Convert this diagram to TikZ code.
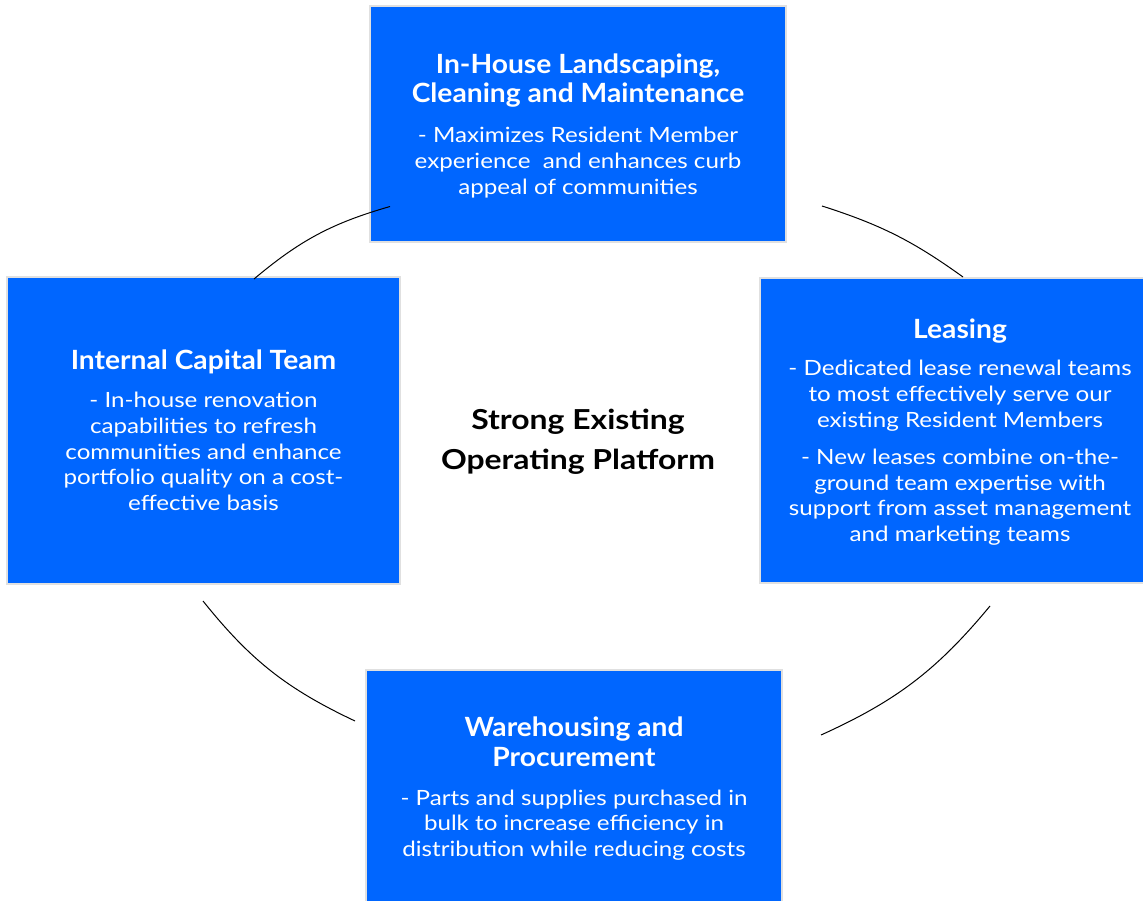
\documentclass[tikz,border=0pt]{standalone}
\usepackage{fontspec}
\setmainfont{Lato}
\newfontfamily\ttlfont{Lato}[FakeStretch=1.065]
\newfontfamily\bdyfont{Lato}[FakeStretch=1.15]
\newfontfamily\ctrfont{Lato}[FakeStretch=1.16]
\definecolor{boxblue}{RGB}{0,102,255}
\definecolor{boxrim}{RGB}{224,224,224}
\tikzset{
  panel/.style={fill=boxblue, draw=boxrim, line width=2pt},
  ttl/.style={font=\ttlfont\fontsize{26.5}{29.5}\selectfont\bfseries, text=white, align=center, inner sep=0pt, anchor=base},
  bdy/.style={font=\bdyfont\fontsize{21}{25.8}\selectfont, text=white, align=center, inner sep=0pt, anchor=base},
  ring/.style={draw=black, line width=1pt}
}
\begin{document}
\begin{tikzpicture}[x=1pt,y=-1pt]
\useasboundingbox (0,0) rectangle (1143,901);
% boxes
\draw[panel] (370,6) rectangle (786,242);
\draw[panel] (7,277) rectangle (400,584);
\draw[panel] (760,278) rectangle (1162,583);
\draw[panel] (366,670) rectangle (782,906);
% arcs
\coordinate (a1s) at (390,206.5);
\coordinate (a1e) at (254,279);
\coordinate (a2s) at (203,601);
\coordinate (a2e) at (355,721);
\coordinate (a3s) at (821,735);
\coordinate (a3e) at (990,606);
\coordinate (a4s) at (963,277);
\coordinate (a4e) at (822,206);
\draw[ring] (a1s) to[bend right=12] (a1e);
\draw[ring] (a2s) to[bend right=13] (a2e);
\draw[ring] (a3s) to[bend right=13] (a3e);
\draw[ring] (a4s) to[bend right=9] (a4e);
% texts (anchor = baseline of last line)
\node[ttl] (t1) at (578,102.7) {In-House Landscaping,\\Cleaning and Maintenance};
\node[bdy] (b1) at (578,194.3) {- Maximizes Resident Member\\experience~ and enhances curb\\appeal of communities};
\node[ttl] (t2) at (203.5,369.3) {Internal Capital Team};
\node[bdy] (b2) at (203.5,510.7) {- In-house renovation\\capabilities to refresh\\communities and enhance\\portfolio quality on a cost-\\effective basis};
\node[ttl] (t3) at (960,338.3) {Leasing};
\node[bdy] (b3) at (960,541.7) {- Dedicated lease renewal teams\\to most effectively serve our\\existing Resident Members\\[11.2pt]- New leases combine on-the-\\ground team expertise with\\support from asset management\\and marketing teams};
\node[ttl] (t4) at (574,766) {Warehousing and\\Procurement};
\node[bdy] (b4) at (574,856.7) {- Parts and supplies purchased in\\bulk to increase efficiency in\\distribution while reducing costs};
\node[font=\ctrfont\fontsize{27.5}{40}\selectfont\bfseries, text=black, align=center, inner sep=0pt, anchor=base] (c) at (578,469) {Strong Existing\\Operating Platform};
\end{tikzpicture}
\end{document}
